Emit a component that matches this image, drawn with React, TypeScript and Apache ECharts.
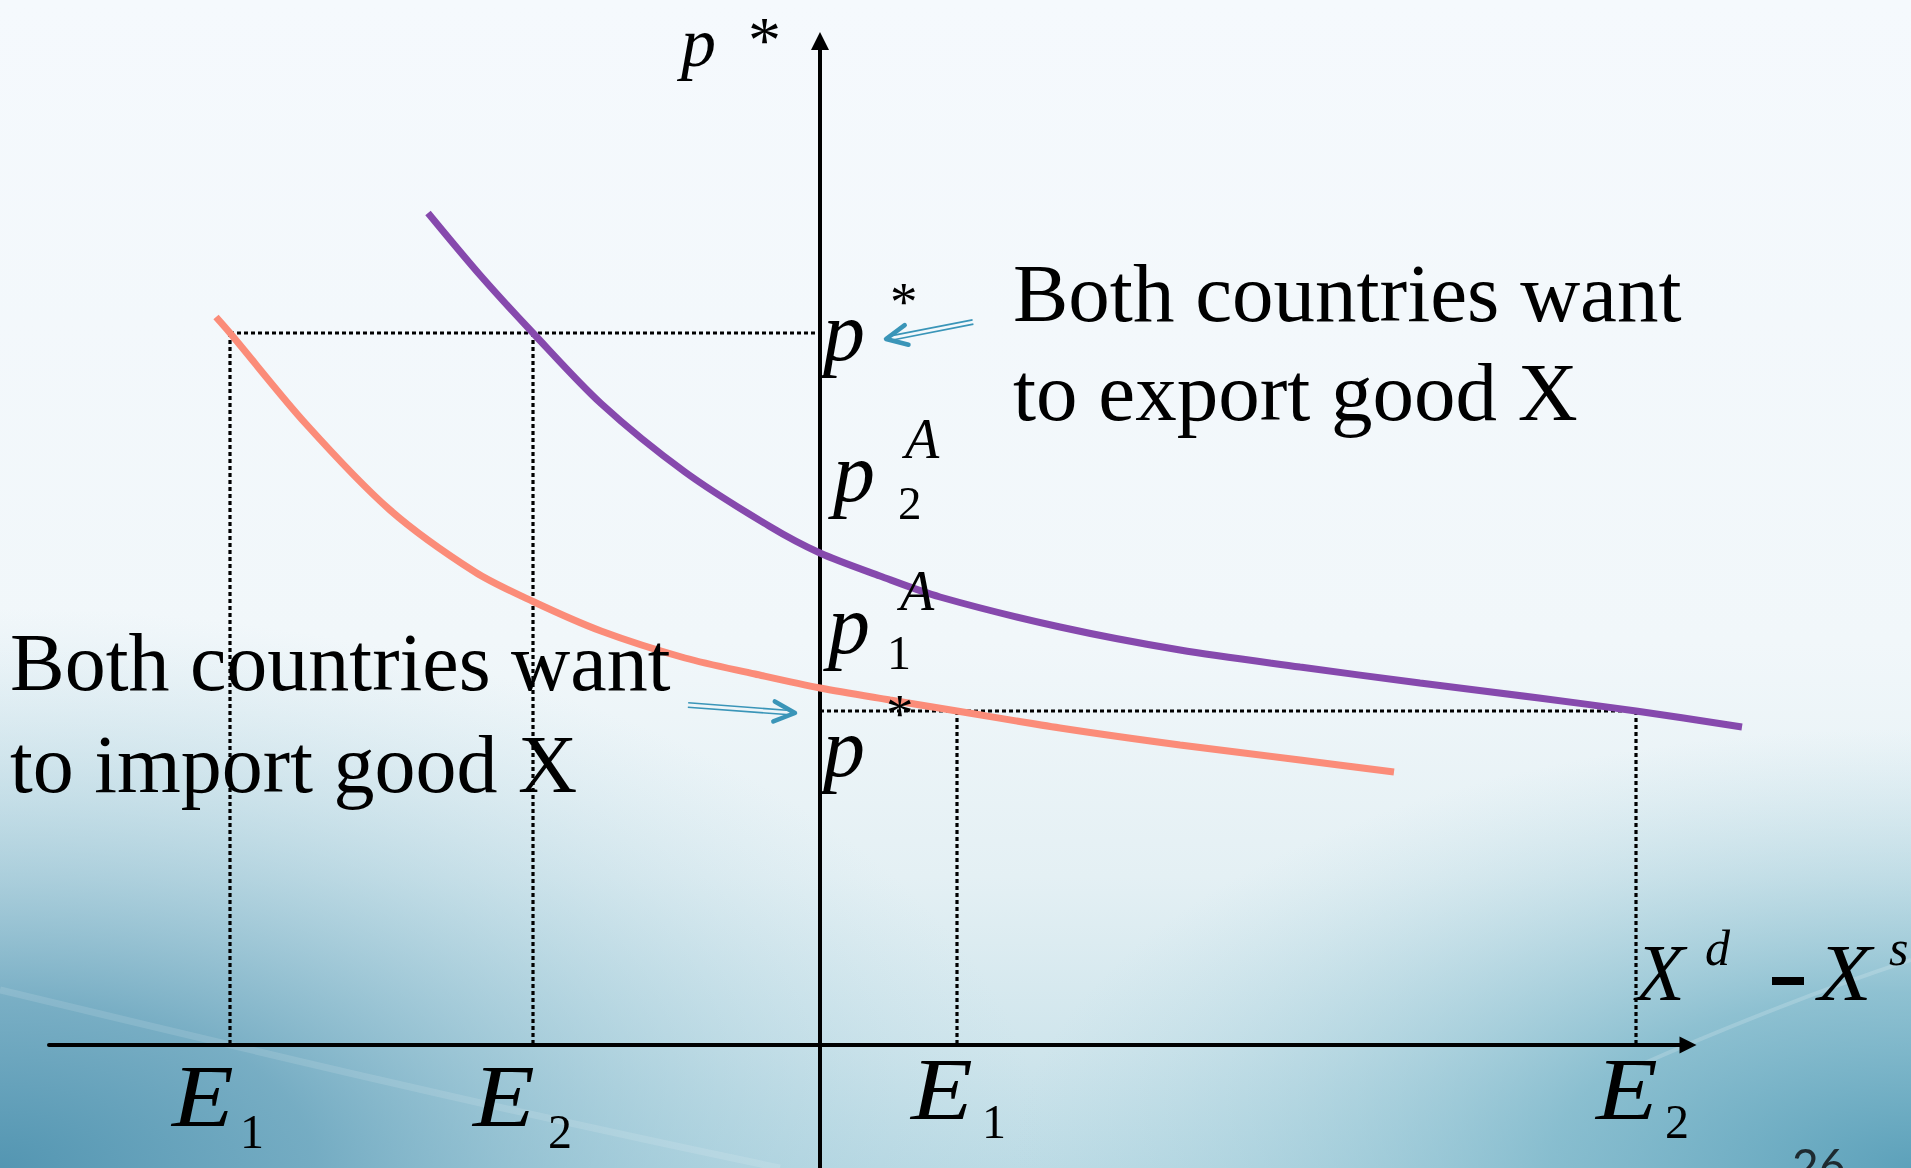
import React, { useEffect, useRef } from 'react';
import * as echarts from 'echarts';

// ---- data (x: Xd - Xs, y: p*) ----
const purpleX = [-3.92, -3.4, -2.87, -2.19, -1.35, -0.51, 0, 0.6, 1.2, 2.4, 3.6, 4.8, 6.0, 7.19, 8.16, 9.22];
const purpleY = [8.32, 7.7, 7.12, 6.415, 5.73, 5.19, 4.92, 4.69, 4.48, 4.18, 3.95, 3.78, 3.62, 3.47, 3.34, 3.18];
const salmonX = [-6.04, -5.9, -5.14, -4.3, -3.45, -2.87, -2.19, -1.35, -0.65, 0, 0.7, 1.37, 2.4, 3.6, 4.8, 5.74];
const salmonY = [7.28, 7.12, 6.21, 5.35, 4.73, 4.435, 4.14, 3.87, 3.71, 3.57, 3.45, 3.34, 3.17, 3.0, 2.85, 2.73];
const pStarHigh = 7.12;
const pStarLow = 3.34;
const eLeft = [-5.9, -2.87];
const eRight = [1.37, 8.16];
const xLabelNames = ['E', 'E', 'E', 'E'];
const xLabelSubs = ['1', '2', '1', '2'];
const pageNumber = '26';

const SERIF = "'Liberation Serif', 'Times New Roman', serif";
const ARROW = '#3a95b8';

function txt(text: string, x: number, y: number, size: number, italic = false, extra: any = {}, el: any = {}) {
  return {
    type: 'text',
    x,
    y,
    z: 50,
    silent: true,
    ...el,
    style: {
      text,
      fill: '#000',
      fontSize: size,
      fontFamily: SERIF,
      fontStyle: italic ? 'italic' : 'normal',
      align: 'left',
      verticalAlign: 'middle',
      textAlign: 'left',
      textVerticalAlign: 'middle',
      ...extra,
    },
  };
}

function dblArrow(tail: number[], tip: number[]) {
  const dx = tip[0] - tail[0];
  const dy = tip[1] - tail[1];
  const L = Math.hypot(dx, dy);
  const ux = dx / L, uy = dy / L;
  const nx = -uy, ny = ux;
  const off = 2.2;
  const ex = tip[0] - ux * 5, ey = tip[1] - uy * 5;
  const els: any[] = [];
  [-1, 1].forEach((s) => {
    els.push({
      type: 'line', z: 50, silent: true,
      shape: { x1: tail[0] + nx * off * s, y1: tail[1] + ny * off * s, x2: ex + nx * off * s, y2: ey + ny * off * s },
      style: { stroke: ARROW, lineWidth: 1.6 },
    });
  });
  els.push({
    type: 'polyline', z: 50, silent: true,
    shape: {
      points: [
        [tip[0] - ux * 21 + nx * 10, tip[1] - uy * 21 + ny * 10],
        [tip[0], tip[1]],
        [tip[0] - ux * 21 - nx * 10, tip[1] - uy * 21 - ny * 10],
      ],
    },
    style: { stroke: ARROW, lineWidth: 4.5, fill: null, lineCap: 'round', lineJoin: 'round' },
  });
  return els;
}

function dotted(name: string, data: number[][]) {
  return {
    name,
    type: 'line',
    xAxisIndex: 0,
    yAxisIndex: 0,
    data,
    symbol: 'none',
    silent: true,
    z: 3,
    lineStyle: { color: '#000', width: 3.2, type: [4, 3] },
  };
}

function ellipseGlow(cx: number, cy: number, rx: number, ry: number, stops: [number, string][]) {
  return {
    type: 'ellipse', z: -9, silent: true,
    shape: { cx, cy, rx, ry },
    style: {
      fill: {
        type: 'radial', x: 0.5, y: 0.5, r: 0.5,
        colorStops: stops.map(([offset, color]) => ({ offset, color })),
      },
    },
  };
}

const hiddenAxis = {
  type: 'value',
  show: false,
  axisLine: { show: false },
  axisTick: { show: false },
  axisLabel: { show: false },
  splitLine: { show: false },
};

export default function App() {
  const ref = useRef<HTMLDivElement>(null);
  useEffect(() => {
    if (!ref.current) return;
    const chart = echarts.init(ref.current, undefined, { renderer: 'svg' });

    const graphics: any[] = [
      {
        type: 'rect', z: -10, silent: true,
        shape: { x: 0, y: 0, width: 1911, height: 1168 },
        style: {
          fill: {
            type: 'linear', x: 0, y: 0, x2: 0, y2: 1168, global: true,
            colorStops: [
              { offset: 0, color: '#f5f9fd' },
              { offset: 0.55, color: '#f1f7fa' },
              { offset: 0.75, color: '#e4f0f4' },
              { offset: 0.9, color: '#cfe5ec' },
              { offset: 1, color: '#bcdbe5' },
            ],
          },
        },
      },
      ellipseGlow(0, 1168, 1050, 560, [
        [0, 'rgba(78,146,175,0.95)'],
        [0.3, 'rgba(98,160,186,0.8)'],
        [0.65, 'rgba(140,190,208,0.4)'],
        [1, 'rgba(180,215,228,0)'],
      ]),
      ellipseGlow(1911, 1168, 900, 440, [
        [0, 'rgba(88,158,184,0.95)'],
        [0.4, 'rgba(112,176,197,0.7)'],
        [1, 'rgba(170,210,222,0)'],
      ]),
      {
        type: 'bezierCurve', z: -8, silent: true,
        shape: { x1: 0, y1: 990, cpx1: 250, cpy1: 1050, cpx2: 500, cpy2: 1110, x2: 780, y2: 1168 },
        style: { stroke: 'rgba(255,255,255,0.12)', lineWidth: 7, fill: null },
      },
      {
        type: 'bezierCurve', z: -8, silent: true,
        shape: { x1: 1640, y1: 1065, cpx1: 1720, cpy1: 1030, cpx2: 1820, cpy2: 990, x2: 1911, y2: 960 },
        style: { stroke: 'rgba(255,255,255,0.18)', lineWidth: 4, fill: null },
      },
      // annotation texts
      txt('Both countries want', 1013, 293, 83),
      txt('to export good X', 1013, 392, 83),
      txt('Both countries want', 10, 662, 82),
      txt('to import good X', 10, 764, 82),
      // axis title p*
      txt('p', 681, 42, 70, true),
      txt('*', 748, 39, 66),
      // p* (high)
      txt('p', 823, 331, 84, true),
      txt('*', 890, 301, 55),
      // p2^A
      txt('p', 833, 472, 84, true),
      txt('2', 898, 503, 47),
      txt('A', 905, 439, 56, true),
      // p1^A
      txt('p', 828, 624, 84, true),
      txt('1', 887, 652, 48),
      txt('A', 900, 591, 56, true),
      // p* (low)
      txt('p', 823, 747, 84, true),
      txt('*', 886, 713, 55),
      // E labels
      txt(xLabelNames[0], 172, 1097, 88, true, {}, { scaleX: 1.15 }),
      txt(xLabelSubs[0], 240, 1131, 48),
      txt(xLabelNames[1], 473, 1097, 88, true, {}, { scaleX: 1.15 }),
      txt(xLabelSubs[1], 548, 1131, 48),
      txt(xLabelNames[2], 911, 1090, 88, true, {}, { scaleX: 1.15 }),
      txt(xLabelSubs[2], 982, 1121, 48),
      txt(xLabelNames[3], 1596, 1090, 88, true, {}, { scaleX: 1.15 }),
      txt(xLabelSubs[3], 1665, 1121, 48),
      // x axis title
      txt('X', 1636, 973, 80, true),
      txt('d', 1705, 948, 50, true),
      {
        type: 'rect', z: 50, silent: true,
        shape: { x: 1772, y: 977, width: 32, height: 8 },
        style: { fill: '#000' },
      },
      txt('X', 1818, 973, 80, true, {}, { scaleX: 1.1 }),
      txt('s', 1889, 948, 50, true),
      // page number
      txt(pageNumber, 1792, 1164, 46, false, { fontFamily: 'Lato, sans-serif', fill: '#1e2a30' }),
      ...dblArrow([973, 322], [886, 339]),
      ...dblArrow([688, 705], [795, 713]),
    ];

    const curveBase = {
      type: 'line',
      xAxisIndex: 0,
      yAxisIndex: 0,
      smooth: 0.3,
      symbol: 'none',
      silent: true,
      z: 4,
    };

    const option: any = {
      animation: false,
      backgroundColor: 'transparent',
      grid: [
        // plotting grid (wider so curves may pass the axis arrow)
        { left: 49, right: 151, top: 41, bottom: 0, containLabel: false },
        // visible axes grid
        { left: 49, right: 223, top: 41, bottom: 0, containLabel: false },
      ],
      xAxis: [
        { ...hiddenAxis, gridIndex: 0, min: -7.71, max: 9.4 },
        {
          type: 'value',
          gridIndex: 1,
          min: -7.71,
          max: 8.68,
          axisLine: {
            show: true, onZero: true,
            symbol: ['none', 'triangle'], symbolSize: [17, 17],
            lineStyle: { color: '#000', width: 4 },
          },
          axisTick: { show: false },
          axisLabel: { show: false },
          splitLine: { show: false },
        },
      ],
      yAxis: [
        { ...hiddenAxis, gridIndex: 0, min: -1.23, max: 10.04 },
        {
          type: 'value',
          gridIndex: 1,
          min: -1.23,
          max: 10.04,
          axisLine: {
            show: true, onZero: true,
            symbol: ['none', 'triangle'], symbolSize: [18, 18],
            lineStyle: { color: '#000', width: 4 },
          },
          axisTick: { show: false },
          axisLabel: { show: false },
          splitLine: { show: false },
        },
      ],
      series: [
        dotted('pHigh', [[eLeft[0], pStarHigh], [0, pStarHigh]]),
        dotted('pLow', [[0, pStarLow], [eRight[1] + 0.1, pStarLow]]),
        dotted('E1L', [[eLeft[0], pStarHigh], [eLeft[0], 0]]),
        dotted('E2L', [[eLeft[1], pStarHigh], [eLeft[1], 0]]),
        dotted('E1R', [[eRight[0], pStarLow], [eRight[0], 0]]),
        dotted('E2R', [[eRight[1], pStarLow], [eRight[1], 0]]),
        {
          ...curveBase,
          name: 'salmon',
          data: salmonX.map((x, i) => [x, salmonY[i]]),
          lineStyle: { color: '#fb8c79', width: 7 },
        },
        {
          ...curveBase,
          name: 'purple',
          data: purpleX.map((x, i) => [x, purpleY[i]]),
          lineStyle: { color: '#8649ad', width: 7 },
        },
      ],
      graphic: { elements: graphics },
    };
    chart.setOption(option);
    return () => chart.dispose();
  }, []);

  return (
    <div
      ref={ref}
      style={{ position: 'fixed', left: 0, top: 0, width: 1911, height: 1168 }}
    />
  );
}
